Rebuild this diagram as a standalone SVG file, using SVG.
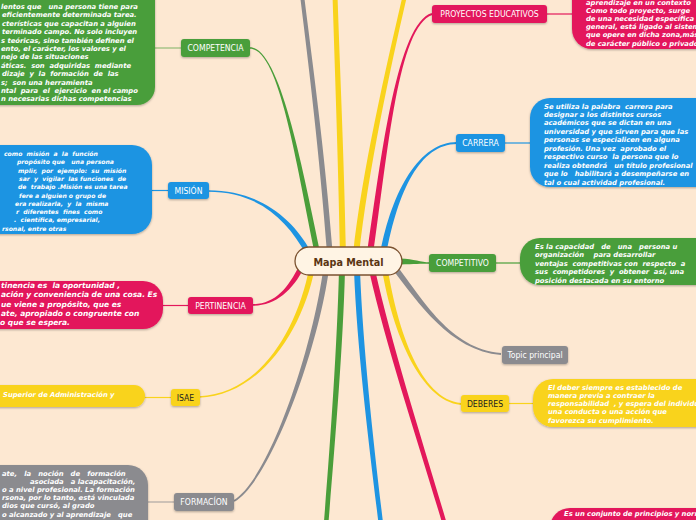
<svg xmlns="http://www.w3.org/2000/svg" width="696" height="520" viewBox="0 0 696 520" xml:space="preserve">
<defs>
<filter id="sh" x="-10%" y="-20%" width="120%" height="160%"><feDropShadow dx="0" dy="1" stdDeviation="0.8" flood-color="#000" flood-opacity="0.3"/></filter>
<style>
.lbl{font-family:"DejaVu Sans Condensed","DejaVu Sans",sans-serif;font-size:8.6px;fill:#fff;text-anchor:middle}
.dk{fill:#222}
.tx{font-family:"DejaVu Sans",Verdana,sans-serif;font-weight:bold;font-style:italic;font-size:6.8px;fill:#fff;white-space:pre}
.g{fill:#4a9e3a}.b{fill:#1e94e2}.p{fill:#e3185b}.y{fill:#f9d31c}.k{fill:#8b8b8f}
.lg{stroke:#4a9e3a}.lb{stroke:#1e94e2}.lp{stroke:#e3185b}.ly{stroke:#f9d31c}.lk{stroke:#8b8b8f}
.thin{fill:none;stroke-width:1.2}
.ms{font-size:6.1px}.pt{font-size:7.5px}
</style>
</defs>
<rect width="696" height="520" fill="#fde8d2"/>
<g id="connectors">
<path class="g" d="M320.7 254.4 C302.7 169.4 280 47.2 250 47.2 L250 48.8 C280 48.8 297.3 170.6 315.3 255.6 Z"/>
<path class="k" d="M332.8 254.8 C324.8 149.8 312 59.8 304 -5.2 L300 -4.8 C308 60.2 319.2 150.2 327.2 255.2 Z"/>
<path class="y" d="M346 255 C344 150 339.5 60 337.5 -5 L332.5 -5 C334.5 60 338 150 340 255 Z"/>
<path class="y" d="M359 255.3 C368 170.3 392.1 60.5 407.1 -4.5 L402.9 -5.5 C387.9 59.5 362 169.7 353 254.7 Z"/>
<path class="p" d="M373 255.4 C388 150.4 398.3 25.9 432.3 14.9 L431.7 13.1 C397.7 24.1 382 149.6 367 254.6 Z"/>
<path class="b" d="M386 255.5 C398 190.5 420 143.9 457 143.9 L457 142.1 C420 142.1 392 189.5 380 254.5 Z"/>
<path class="g" d="M400 258.5 C415 259 420 262.3 430 262.3 L430 263.7 C420 263.7 415 264 400 264.5 Z"/>
<path class="k" d="M392.8 269.7 C417.8 301.7 449.9 350.9 500.9 354.9 L501.1 353.1 C450.1 349.1 422.2 298.3 397.2 266.3 Z"/>
<path class="y" d="M382.2 270.5 C392.2 330.5 419.9 400.9 460.9 404.9 L461.1 403.1 C420.1 399.1 397.8 329.5 387.8 269.5 Z"/>
<path class="p" d="M369.1 270.7 C387.1 350.7 417.9 440.6 442.9 525.6 L447.1 524.4 C422.1 439.4 392.9 349.3 374.9 269.3 Z"/>
<path class="b" d="M354 270 C357 350 369.7 450 378.7 525 L383.3 525 C374.3 450 363 350 360 270 Z"/>
<path class="g" d="M339 270 C337 350 329.7 450 323.7 525 L328.3 525 C334.3 450 343 350 345 270 Z"/>
<path class="k" d="M323.2 269.6 C312.2 349.6 269.5 479.2 233.5 500.2 L234.5 501.8 C270.5 480.8 317.8 350.4 328.8 270.4 Z"/>
<path class="y" d="M309.3 267.5 C297.3 329.5 260 394.2 199 396.2 L199 397.8 C260 395.8 302.7 330.5 314.7 268.5 Z"/>
<path class="p" d="M299.7 264.8 C287.7 288.8 275 304.2 252 304.2 L252 305.8 C275 305.8 292.3 291.2 304.3 267.2 Z"/>
<path class="b" d="M310.4 250.6 C292.4 218.6 260 190.2 208 190.2 L208 191.8 C260 191.8 287.6 221.4 305.6 253.4 Z"/>
<path class="thin lg" opacity="0.6" d="M150 48 H182"/>
<path class="thin lb" d="M148 190.5 H169"/>
<path class="thin lp" d="M158 305.5 H189"/>
<path class="thin ly" d="M140 397.5 H172"/>
<path class="thin lk" opacity="0.7" d="M144 502 H175"/>
<path class="thin lp" d="M546 14 H576"/>
<path class="thin lb" d="M505 143 H534"/>
<path class="thin lg" d="M496 263 H524"/>
<path class="thin ly" d="M509 403.5 H537"/>
</g>
<g id="center">
<rect x="295" y="247" width="107" height="28" rx="14" fill="#fff4e4" stroke="#7b5230" stroke-width="1.3"/>
<text x="348.5" y="265.5" text-anchor="middle" font-family="DejaVu Sans Condensed, DejaVu Sans, sans-serif" font-weight="bold" font-size="10.7" fill="#5a3512">Mapa Mental</text>
</g>
<g id="competencia-text">
<rect class="g" x="-40" y="-30" width="195" height="135" rx="18" filter="url(#sh)"/>
<text class="tx" x="1" y="9">lentos que   una persona tiene para</text>
<text class="tx" x="2" y="17.4">eficientemente determinada tarea.</text>
<text class="tx" x="2" y="25.8">cterísticas que capacitan a alguien</text>
<text class="tx" x="2" y="34.2">terminado campo. No solo incluyen</text>
<text class="tx" x="1" y="42.6">s teóricas, sino también definen el</text>
<text class="tx" x="1" y="51">ento, el carácter, los valores y el</text>
<text class="tx" x="1" y="59.4">nejo de las situaciones</text>
<text class="tx" x="1" y="67.8">áticas.  son  adquiridas  mediante</text>
<text class="tx" x="2" y="76.2">dizaje  y  la  formación  de  las</text>
<text class="tx" x="1" y="84.6">s;  son una herramienta</text>
<text class="tx" x="1" y="93">ntal  para  el  ejercicio  en el campo</text>
<text class="tx" x="1" y="101.4">n necesarias dichas competencias</text>
</g>
<g id="competencia"><rect class="g" x="181" y="39" width="69" height="18" rx="3" filter="url(#sh)"/><text class="lbl" x="215.5" y="51">COMPETENCIA</text></g>
<g id="mision-text">
<rect class="b" x="-40" y="145" width="192" height="89" rx="20" filter="url(#sh)"/>
<text class="tx ms" x="4" y="156">como  misión  a  la  función</text>
<text class="tx ms" x="17" y="164.3">propósito que   una persona</text>
<text class="tx ms" x="18" y="172.6">mplir,  por  ejemplo:  su  misión</text>
<text class="tx ms" x="19" y="180.9">sar  y  vigilar  las funciones  de</text>
<text class="tx ms" x="18" y="189.2">de  trabajo .Misión es una tarea</text>
<text class="tx ms" x="19" y="197.5">fere a alguien o grupo de</text>
<text class="tx ms" x="15" y="205.8">era realizarla,  y  la  misma</text>
<text class="tx ms" x="16" y="214.1">r  diferentes  fines  como</text>
<text class="tx ms" x="14" y="222.4">.  científica, empresarial,</text>
<text class="tx ms" x="2" y="230.7">rsonal, entre otras</text>
</g>
<g id="mision"><rect class="b" x="168" y="182" width="41" height="17" rx="3" filter="url(#sh)"/><text class="lbl" x="188.5" y="193.8">MISIÓN</text></g>
<g id="pertinencia-text">
<rect class="p" x="-40" y="281" width="203" height="48" rx="20" filter="url(#sh)"/>
<text class="tx pt" x="1" y="288">tinencia es  la oportunidad ,</text>
<text class="tx pt" x="1" y="297.3">ación y conveniencia de una cosa. Es</text>
<text class="tx pt" x="1" y="306.5">ue viene a propósito, que es</text>
<text class="tx pt" x="1" y="315.7">ate, apropiado o congruente con</text>
<text class="tx pt" x="0" y="324.8">o que se espera.</text>
</g>
<g id="pertinencia"><rect class="p" x="188" y="297" width="65" height="17" rx="3" filter="url(#sh)"/><text class="lbl" x="220.5" y="308.8">PERTINENCIA</text></g>
<g id="isae-text">
<rect class="y" x="-40" y="385" width="185" height="22" rx="11" filter="url(#sh)"/>
<text class="tx" x="3" y="396.5">Superior de Administración y</text>
</g>
<g id="isae"><rect class="y" x="171" y="389" width="29" height="17" rx="3" filter="url(#sh)"/><text class="lbl dk" x="185.5" y="400.8">ISAE</text></g>
<g id="formacion-text">
<rect class="k" x="-40" y="465" width="188" height="80" rx="20" filter="url(#sh)"/>
<text class="tx" x="2" y="475.5">ate,   la   noción   de   formación</text>
<text class="tx" x="30" y="483.7">asociada   a lacapacitación,</text>
<text class="tx" x="2" y="491.9">o a nivel profesional. La formación</text>
<text class="tx" x="2" y="500.1">rsona, por lo tanto, está vinculada</text>
<text class="tx" x="2" y="508.3">dios que cursó, al grado</text>
<text class="tx" x="2" y="516.5">o alcanzado y al aprendizaje   que</text>
</g>
<g id="formacion"><rect class="k" x="174" y="493" width="60" height="18" rx="3" filter="url(#sh)"/><text class="lbl" x="204" y="505">FORMACÍON</text></g>
<g id="proyectos-text">
<rect class="p" x="572" y="-30" width="160" height="79" rx="20" filter="url(#sh)"/>
<text class="tx" x="586" y="4.5">aprendizaje en un contexto</text>
<text class="tx" x="586" y="12.7">Como todo proyecto, surge</text>
<text class="tx" x="586" y="20.9">de una necesidad específica</text>
<text class="tx" x="586" y="29.1">general, está ligado al sistema</text>
<text class="tx" x="586" y="37.3">que opere en dicha zona,más</text>
<text class="tx" x="586" y="45.5">de carácter público o privado</text>
</g>
<g id="proyectos"><rect class="p" x="432" y="5" width="115" height="18" rx="3" filter="url(#sh)"/><text class="lbl" x="489.5" y="17">PROYECTOS EDUCATIVOS</text></g>
<g id="carrera-text">
<rect class="b" x="530" y="98" width="200" height="89" rx="20" filter="url(#sh)"/>
<text class="tx" x="544" y="108.5">Se utiliza la palabra  carrera para</text>
<text class="tx" x="544" y="116.9">designar a los distintos cursos</text>
<text class="tx" x="544" y="125.4">académicos que se dictan en una</text>
<text class="tx" x="544" y="133.8">universidad y que sirven para que las</text>
<text class="tx" x="544" y="142.3">personas se especialicen en alguna</text>
<text class="tx" x="544" y="150.7">profesión. Una vez  aprobado el</text>
<text class="tx" x="544" y="159.1">respectivo curso  la persona que lo</text>
<text class="tx" x="544" y="167.6">realiza obtendrá   un título profesional</text>
<text class="tx" x="544" y="176">que lo   habilitará a desempeñarse en</text>
<text class="tx" x="544" y="184.5">tal o cual actividad profesional.</text>
</g>
<g id="carrera"><rect class="b" x="456" y="134" width="49" height="18" rx="3" filter="url(#sh)"/><text class="lbl" x="480.5" y="146">CARRERA</text></g>
<g id="competitivo-text">
<rect class="g" x="520" y="238" width="200" height="47" rx="20" filter="url(#sh)"/>
<text class="tx" x="535" y="248.5">Es la capacidad   de   una   persona u</text>
<text class="tx" x="535" y="257">organización    para desarrollar</text>
<text class="tx" x="535" y="265.5">ventajas  competitivas con  respecto  a</text>
<text class="tx" x="535" y="274">sus  competidores  y  obtener  así, una</text>
<text class="tx" x="535" y="282.5">posición destacada en su entorno</text>
</g>
<g id="competitivo"><rect class="g" x="429" y="254" width="67" height="18" rx="3" filter="url(#sh)"/><text class="lbl" x="462.5" y="266">COMPETITIVO</text></g>
<g id="topic-principal"><rect class="k" x="502" y="346" width="66" height="18" rx="3" filter="url(#sh)"/><text class="lbl" x="535" y="358">Topic principal</text></g>
<g id="deberes-text">
<rect class="y" x="533" y="379" width="200" height="48" rx="20" filter="url(#sh)"/>
<text class="tx" x="548" y="389.5">El deber siempre es establecido de</text>
<text class="tx" x="548" y="397.8">manera previa a contraer la</text>
<text class="tx" x="548" y="406">responsabilidad  , y espera del individuo</text>
<text class="tx" x="548" y="414.3">una conducta o una acción que</text>
<text class="tx" x="548" y="422.5">favorezca su cumplimiento.</text>
</g>
<g id="deberes"><rect class="y" x="461" y="395" width="48" height="17" rx="3" filter="url(#sh)"/><text class="lbl dk" x="485" y="406.8">DEBERES</text></g>
<g id="normas-text">
<rect class="p" x="550" y="508" width="200" height="40" rx="20" filter="url(#sh)"/>
<text class="tx" x="564" y="516">Es un conjunto de principios y normas</text>
</g>
</svg>
